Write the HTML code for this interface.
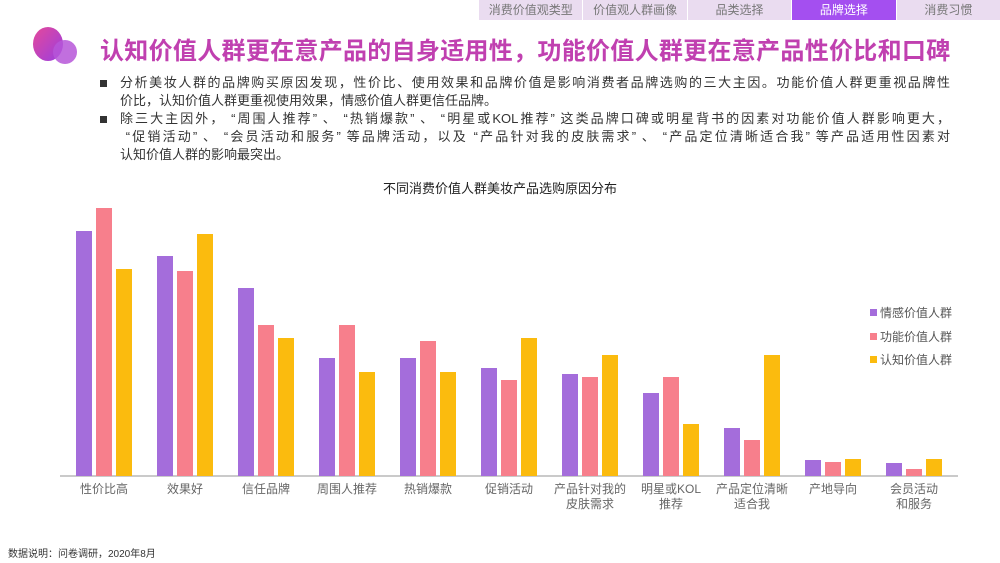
<!DOCTYPE html>
<html><head><meta charset="utf-8"><style>
body{margin:0;width:1000px;height:563px;background:#fff;position:relative;overflow:hidden;font-family:"Liberation Sans","Noto Sans CJK SC",sans-serif}
.tabs{position:absolute;left:478px;top:0;width:522px;height:20px;display:flex;background:#eadcf0}
.tabs div{flex:1;text-align:center;font-size:12px;line-height:20px;color:#777;border-left:1px solid #fff}
.tabs .a{background:#a44ff0;color:#fff}
.title{position:absolute;left:100px;top:31px;font-size:24px;font-weight:bold;color:#c040b0;letter-spacing:0.3px;white-space:nowrap}
.l{position:absolute;left:120px;width:830px;font-size:13px;line-height:18px;color:#333;white-space:nowrap}
.j{text-align:justify;text-align-last:justify}
.b{position:absolute;left:100px;width:7px;height:7px;background:#333}
.foot{position:absolute;left:8px;top:545px;font-size:10px;color:#333}
</style></head><body>
<div class="tabs"><div>消费价值观类型</div><div>价值观人群画像</div><div>品类选择</div><div class="a">品牌选择</div><div>消费习惯</div></div>
<svg style="position:absolute;left:28px;top:22px" width="60" height="50"><defs><linearGradient id="g" x1="0" y1="0" x2="1" y2="1"><stop offset="0" stop-color="#e5489a"/><stop offset="1" stop-color="#9a3fe0"/></linearGradient></defs><ellipse cx="20" cy="22" rx="15" ry="17" fill="url(#g)"/><circle cx="37" cy="30" r="12" fill="#b656d8" opacity="0.85"/></svg>
<div class="title">认知价值人群更在意产品的自身适用性，功能价值人群更在意产品性价比和口碑</div>
<div class="b" style="top:80px"></div>
<div class="l j" style="top:74px">分析美妆人群的品牌购买原因发现，性价比、使用效果和品牌价值是影响消费者品牌选购的三大主因。功能价值人群更重视品牌性</div>
<div class="l" style="top:92px">价比，认知价值人群更重视使用效果，情感价值人群更信任品牌。</div>
<div class="b" style="top:116px"></div>
<div class="l j" style="top:110px">除三大主因外， “周围人推荐” 、 “热销爆款” 、 “明星或KOL推荐” 这类品牌口碑或明星背书的因素对功能价值人群影响更大，</div>
<div class="l j" style="top:128px">&nbsp;“促销活动” 、 “会员活动和服务” 等品牌活动，以及 “产品针对我的皮肤需求” 、 “产品定位清晰适合我” 等产品适用性因素对</div>
<div class="l" style="top:146px">认知价值人群的影响最突出。</div>
<svg style="position:absolute;left:0;top:0" width="1000" height="563" font-family="Liberation Sans, Noto Sans CJK SC, sans-serif">
<text x="500" y="193" text-anchor="middle" font-size="13" fill="#222">不同消费价值人群美妆产品选购原因分布</text>
<line x1="60" y1="476" x2="958" y2="476" stroke="#aaa" stroke-width="1.2"/>
<g font-size="12" fill="#666" text-anchor="middle">
<text x="104" y="493">性价比高</text><text x="185" y="493">效果好</text><text x="266" y="493">信任品牌</text><text x="347" y="493">周围人推荐</text><text x="428" y="493">热销爆款</text><text x="509" y="493">促销活动</text>
<text x="590" y="493">产品针对我的</text><text x="590" y="508">皮肤需求</text>
<text x="671" y="493">明星或KOL</text><text x="671" y="508">推荐</text>
<text x="752" y="493">产品定位清晰</text><text x="752" y="508">适合我</text>
<text x="833" y="493">产地导向</text>
<text x="914" y="493">会员活动</text><text x="914" y="508">和服务</text>
</g>
<g font-size="12" fill="#555">
<rect x="870" y="309" width="7" height="7" fill="#a46ddb"/><text x="880" y="317">情感价值人群</text>
<rect x="870" y="333" width="7" height="7" fill="#f77f8c"/><text x="880" y="341">功能价值人群</text>
<rect x="870" y="356" width="7" height="7" fill="#fbbb0e"/><text x="880" y="364">认知价值人群</text>
</g>
<g>
<rect x="76" y="231" width="16" height="245" fill="#a46ddb"/><rect x="96" y="208" width="16" height="268" fill="#f77f8c"/><rect x="116" y="269" width="16" height="207" fill="#fbbb0e"/>
<rect x="157" y="256" width="16" height="220" fill="#a46ddb"/><rect x="177" y="271" width="16" height="205" fill="#f77f8c"/><rect x="197" y="234" width="16" height="242" fill="#fbbb0e"/>
<rect x="238" y="288" width="16" height="188" fill="#a46ddb"/><rect x="258" y="325" width="16" height="151" fill="#f77f8c"/><rect x="278" y="338" width="16" height="138" fill="#fbbb0e"/>
<rect x="319" y="358" width="16" height="118" fill="#a46ddb"/><rect x="339" y="325" width="16" height="151" fill="#f77f8c"/><rect x="359" y="372" width="16" height="104" fill="#fbbb0e"/>
<rect x="400" y="358" width="16" height="118" fill="#a46ddb"/><rect x="420" y="341" width="16" height="135" fill="#f77f8c"/><rect x="440" y="372" width="16" height="104" fill="#fbbb0e"/>
<rect x="481" y="368" width="16" height="108" fill="#a46ddb"/><rect x="501" y="380" width="16" height="96" fill="#f77f8c"/><rect x="521" y="338" width="16" height="138" fill="#fbbb0e"/>
<rect x="562" y="374" width="16" height="102" fill="#a46ddb"/><rect x="582" y="377" width="16" height="99" fill="#f77f8c"/><rect x="602" y="355" width="16" height="121" fill="#fbbb0e"/>
<rect x="643" y="393" width="16" height="83" fill="#a46ddb"/><rect x="663" y="377" width="16" height="99" fill="#f77f8c"/><rect x="683" y="424" width="16" height="52" fill="#fbbb0e"/>
<rect x="724" y="428" width="16" height="48" fill="#a46ddb"/><rect x="744" y="440" width="16" height="36" fill="#f77f8c"/><rect x="764" y="355" width="16" height="121" fill="#fbbb0e"/>
<rect x="805" y="460" width="16" height="16" fill="#a46ddb"/><rect x="825" y="462" width="16" height="14" fill="#f77f8c"/><rect x="845" y="459" width="16" height="17" fill="#fbbb0e"/>
<rect x="886" y="463" width="16" height="13" fill="#a46ddb"/><rect x="906" y="469" width="16" height="7" fill="#f77f8c"/><rect x="926" y="459" width="16" height="17" fill="#fbbb0e"/>
</g>
</svg>
<div class="foot">数据说明：问卷调研，2020年8月</div>
</body></html>
